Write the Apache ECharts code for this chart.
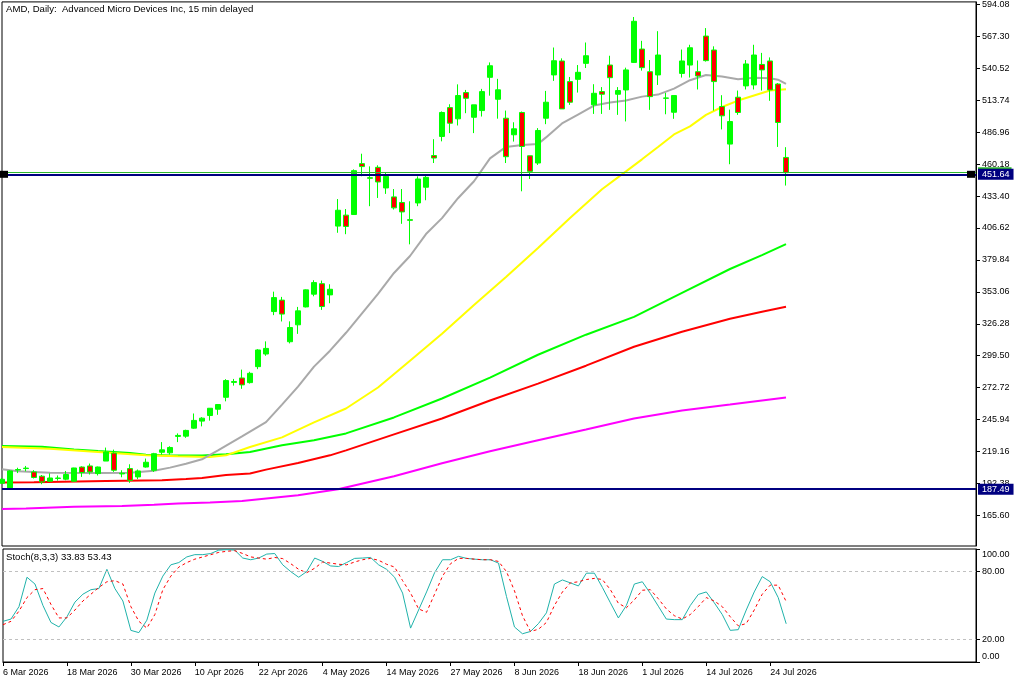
<!DOCTYPE html>
<html><head><meta charset="utf-8">
<script src="https://cdn.jsdelivr.net/npm/echarts@6/dist/echarts.min.js"></script>
<style>html,body{margin:0;padding:0;background:#fff}#c{width:1024px;height:683px}</style>
</head><body><div id="c"></div>
<script>
const titleText = 'AMD, Daily:  Advanced Micro Devices Inc, 15 min delayed';
const dates = ['6 Mar 2026','9 Mar 2026','10 Mar 2026','11 Mar 2026','12 Mar 2026','13 Mar 2026','16 Mar 2026','17 Mar 2026','18 Mar 2026','19 Mar 2026','20 Mar 2026','23 Mar 2026','24 Mar 2026','25 Mar 2026','26 Mar 2026','27 Mar 2026','30 Mar 2026','31 Mar 2026',
'1 Apr 2026','2 Apr 2026','6 Apr 2026','7 Apr 2026','8 Apr 2026','9 Apr 2026','10 Apr 2026','13 Apr 2026','14 Apr 2026','15 Apr 2026','16 Apr 2026','17 Apr 2026','20 Apr 2026','21 Apr 2026','22 Apr 2026','23 Apr 2026','24 Apr 2026','27 Apr 2026','28 Apr 2026','29 Apr 2026','30 Apr 2026',
'1 May 2026','4 May 2026','5 May 2026','6 May 2026','7 May 2026','8 May 2026','11 May 2026','12 May 2026','13 May 2026','14 May 2026','15 May 2026','18 May 2026','19 May 2026','20 May 2026','21 May 2026','22 May 2026','26 May 2026','27 May 2026','28 May 2026','29 May 2026',
'1 Jun 2026','2 Jun 2026','3 Jun 2026','4 Jun 2026','5 Jun 2026','8 Jun 2026','9 Jun 2026','10 Jun 2026','11 Jun 2026','12 Jun 2026','15 Jun 2026','16 Jun 2026','17 Jun 2026','18 Jun 2026','22 Jun 2026','23 Jun 2026','24 Jun 2026','25 Jun 2026','26 Jun 2026','29 Jun 2026','30 Jun 2026',
'1 Jul 2026','2 Jul 2026','6 Jul 2026','7 Jul 2026','8 Jul 2026','9 Jul 2026','10 Jul 2026','13 Jul 2026','14 Jul 2026','15 Jul 2026','16 Jul 2026','17 Jul 2026','20 Jul 2026','21 Jul 2026','22 Jul 2026','23 Jul 2026','24 Jul 2026','27 Jul 2026','28 Jul 2026'];
const dateTickIdx = [0,8,16,24,32,40,48,56,64,72,80,88,96];
const priceTicks = [165.60,192.38,219.16,245.94,272.72,299.50,326.28,353.06,379.84,406.62,433.40,460.18,486.96,513.74,540.52,567.30,594.08];
const stochTicks = [0,20,80,100];

const open = [192.5,188.6,203.5,204.8,202,198.4,194.2,196.5,195.9,194.2, 206.1,207,200.6,211.1,217.8,200.3,204.8,197.8,206.1,203.4, 218.5,218,231.8,232,238.7,244.6,249.3,254.6,264.6,277.1, 280.8,276.9,290.3,300.9,336.5,346.1,311.2,325.4,340.4,351.1, 359.9,350.5,408.2,417.4,417.9,460.6,448.8,457.5,440.2,432.7, 428,413.6,427.6,440.8,467.4,483.4,507.6,498.2,520.2,499.5, 505.1,533,514.6,498.7,484.8,503.5,467.2,461.1,498.7,535, 546.7,529.4,531.3,544.7,509.9,521,543.3,518.8,522.4,545.5, 556.7,537.7,535,515.7,503.7,536.3,543.3,537.7,567.6,555.9, 508.5,477,516.3,525.8,526.6,543.8,546.7,527.4,465.8];
const close = [195.8,202.8,204,205.2,197.3,193.6,196.9,196.9,199.8,205.3, 201.5,202,206.1,218.7,203.4,200.9,194.9,202.8,210.1,217.3, 220.5,222.5,232.6,236.8,245.2,247.1,255.4,258.5,278.6,277.8, 275,284.7,304.3,305.6,348.2,334.4,323.1,337.1,354.7,360.8, 340.7,355.2,421.5,407.9,454.7,458.1,448.3,445.2,449.9,423.5, 420.1,413,447.7,449.1,465.3,503.5,494.5,517.7,515.4,509.9, 521,542.7,522.5,466.4,489.8,475,454.1,488.4,512.1,546.9, 506.5,512.1,537.2,551.1,519.6,518.8,532.7,521.9,539.2,580, 541.1,516.8,551.7,515.4,517.7,546.7,557.8,534.1,547,529.4, 500.7,495.9,503.5,544.2,551.7,539.2,522.4,495.1,453];
const low = [192,188,201,202.5,196.5,191.7,193.6,194.7,195,194, 197.8,199.8,199,211.1,202,197.5,192.8,195.9,205.6,202, 216.5,216.5,227,230.6,238.1,240.2,245,249.9,261.2,274.4, 271.7,276.1,288.2,299.4,333.5,328.2,309.8,317.8,340,349.3, 337.9,343.5,402.6,401.4,417.9,450,424.9,431.8,435.2,422.1, 410.1,392.9,424.9,429.9,461.1,479.3,486.2,492.6,502.9,486.2, 500.1,517.6,498.3,461.1,479.1,437.4,447.7,459.5,493.7,530, 506.5,509.9,520.2,540.8,502.3,502.3,505.7,501.5,496,545, 538.6,505.7,526.6,502,498.2,532.8,532.8,522.8,546.2,505.1, 489.3,460.1,501.5,522.8,522.8,521.9,513.3,474.6,442.2];
const high = [197,203.5,205.5,207,203.5,199.4,200.8,199,202.8,205.5, 206.7,209,206.5,222.4,220.7,203.4,208.4,204,213.2,218, 227,223.5,234.3,237.4,251,247.9,255.6,258.8,279.8,280, 287.8,286,305,311.5,353.2,348.8,328.3,340.4,355.1,362.8, 362.5,359.4,430.9,422.5,455.8,468.9,458.3,459.2,452.7,439.3, 439.3,429,449.9,451,481.1,504.4,510.4,527.1,522.4,509.9, 523.3,545.5,531.7,505.1,495.3,504.3,467.2,490.4,521.6,558, 548.9,533.3,543.3,562.2,527.2,524.8,551.1,524.8,541.1,583.6, 563.6,547.5,571.7,520,517.7,556.3,560.3,547.1,574.3,559, 518,505.9,521.9,547.5,560.3,553.5,549.7,528.2,474.4];

// moving averages: [bar index, value]
const maGray = [[0,204.2],[2,202.5],[6,201.3],[12,201.1],[16,201.3],[19,202.9],[21,205.6],[23,208.8],[25,212.6],[27,220.1],[30,231.8],[33,243.8],[35,258.5],[37,273.6],[39,290.3],[41,303.7],[43,318.7],[45,335],[47,351.3],[49,368.9],[51,383.1],[53,401.5],[55,414.9],[57,431.6],[59,445.8],[61,465.0],[63,474.6],[65,476.3],[67,477.1],[68,482.6],[70,494.3],[72,501.8],[74,509.3],[76,511.8],[78,513.5],[80,516.8],[82,518.5],[84,523.5],[86,530.6],[88,535.0],[90,533.6],[92,531.3],[94,532.7],[96,532.3],[97,531.0],[98,527.5]];
const maYellow = [[0,222.8],[6,221.5],[12,218.7],[18,215.9],[22,215.1],[26,214.5],[28,215.9],[31,222.9],[35,231.0],[39,243.5],[43,255.2],[47,272.8],[51,295.3],[55,317.9],[59,342.1],[63,365.5],[67,389.8],[71,414.9],[75,439.1],[78,454.1],[80,464.2],[82,474.6],[84,485.1],[86,491.8],[88,501.5],[90,508.1],[92,513.5],[94,517.7],[96,521.9],[98,523.0]];
const maGreen = [[0,223.7],[5,223.2],[9,220.9],[12,219.5],[16,217.8],[18,216.3],[21,215.7],[25,215.7],[28,216.8],[31,218.7],[35,224.3],[39,228.5],[43,234.3],[49,247.7],[55,263.6],[61,281.1],[67,300.3],[73,317.1],[79,332.1],[85,352.2],[91,372.2],[95,383.9],[98,393.1]];
const maRed = [[0,193.1],[4,193.3],[13,194.4],[20,195.0],[23,196.1],[25,196.9],[28,199.4],[31,200.6],[33,203.9],[37,209.5],[41,215.9],[43,220.1],[49,233.5],[55,246.8],[61,261.9],[67,276.1],[73,291.1],[79,307.0],[85,319.6],[91,330.4],[95,336.3],[98,340.5]];
const maMagenta = [[0,170.8],[3,171.4],[9,172.7],[15,173.5],[19,174.4],[22,175.5],[26,176.4],[30,177.5],[37,182.5],[42,187.5],[49,198.4],[55,209.2],[61,219.3],[67,228.5],[73,237.6],[79,246.8],[85,253.5],[91,258.5],[95,261.9],[98,264.4]];

const stochMain = [36,38,49,75,69,50,35,31,40,53, 60,64,65,82,65,54,28,26,37,61, 76,86,88,93,95,95,96,99,99.4,99, 92,90.5,92,95.5,96,86,80,75,80,92, 89,85,84.5,88,91.7,92,92.5,86,82,75, 61,30,46,62,79,90.5,90.5,93.5,91.7,91, 90.5,90.5,87.5,58,31,25,27,34,43.5,69, 72.6,70,67.3,78.6,78.6,66,52.4,39,50,69, 71,60.7,49.4,38,37.5,37.5,50,59.8,62,52.4, 42,28,28.6,46,62,75.6,71,57,33.83];
const stochSignal = [33,36,45,57,64,65,51,39,39,46, 54,60,66,71,72,69,49,36,30,42, 64,76,84,88,91,93,95,97,98,98.5, 96,93,92,91,92.5,91.5,87,82,79,83, 88.5,87.5,86.5,86,88.5,90.5,91.7,90,86.5,84, 72,61,47,44,60,76,87,91.7,91.7,91, 90.5,90.5,89,80,63,41,27,29,35,50, 62,70,71,73,74,73,64,52,48,55, 63.5,64,56,47,41,38,42,49,57,54, 49,40,32,34,46,60,68,68,53.43];
const stochLevels = [20, 80];
const bidLevel = 451.64;
const greenLevel = 453.7;
const lowLevel = 187.49;

const FONT = '"Liberation Sans", Arial, sans-serif';
const X_MAX = 121.75;
const candles = open.map((o, i) => [i, o, close[i], low[i], high[i]]);
const idx = arr => arr.map((v, i) => [i, v]);

const chart = echarts.init(document.getElementById('c'), null, {renderer: 'canvas'});
const maSeries = (data, color) => ({
  type: 'line', xAxisIndex: 0, yAxisIndex: 0, data, showSymbol: false, symbol: 'none',
  lineStyle: {color, width: 2}, z: 2, silent: true
});
const option = {
  animation: false,
  backgroundColor: '#ffffff',
  title: [
    {text: titleText, left: 6, top: 4, padding: 0, textStyle: {fontSize: 9.6, fontWeight: 'normal', color: '#000', fontFamily: FONT}},
    {text: 'Stoch(8,3,3) ' + stochMain[stochMain.length - 1].toFixed(2) + ' ' + stochSignal[stochSignal.length - 1].toFixed(2),
     left: 6, top: 552, padding: 0, textStyle: {fontSize: 9.6, fontWeight: 'normal', color: '#000', fontFamily: FONT}}
  ],
  grid: [
    {left: 2, top: 0, width: 974, height: 546, show: true, borderColor: '#000', borderWidth: 1},
    {left: 2, top: 549, width: 974, height: 113, show: true, borderColor: '#000', borderWidth: 1}
  ],
  xAxis: [
    {gridIndex: 0, type: 'value', min: 0, max: X_MAX, show: false, axisLine: {onZero: false}},
    {gridIndex: 1, type: 'value', min: 0, max: X_MAX,
     axisLine: {show: true, onZero: false, lineStyle: {color: '#000', width: 1}},
     axisTick: {show: true, customValues: dateTickIdx, length: 4, lineStyle: {color: '#000'}},
     axisLabel: {customValues: dateTickIdx, formatter: v => dates[v] || '', align: 'left', fontSize: 9, color: '#000', fontFamily: FONT, margin: 6},
     splitLine: {show: false}}
  ],
  yAxis: [
    {gridIndex: 0, type: 'value', position: 'right', min: 139.85, max: 596.25,
     axisLine: {show: true, onZero: false, lineStyle: {color: '#000'}},
     axisTick: {show: true, customValues: priceTicks, length: 4, lineStyle: {color: '#000'}},
     axisLabel: {customValues: priceTicks, formatter: v => v.toFixed(2), fontSize: 9, color: '#000', fontFamily: FONT, margin: 6},
     splitLine: {show: false}},
    {gridIndex: 1, type: 'value', position: 'right', min: 0, max: 100,
     axisLine: {show: true, onZero: false, lineStyle: {color: '#000'}},
     axisTick: {show: true, customValues: stochTicks, length: 4, lineStyle: {color: '#000'}},
     axisLabel: {customValues: stochTicks, fontSize: 9, color: '#000', fontFamily: FONT, margin: 6,
       formatter: v => v === 100 ? '{t|100.00}' : (v === 0 ? '{b|0.00}' : v.toFixed(2)),
       rich: {t: {fontSize: 9, color: '#000', fontFamily: FONT, padding: [12, 0, 0, 0]},
              b: {fontSize: 9, color: '#000', fontFamily: FONT, padding: [0, 0, 11, 0]}}},
     splitLine: {show: false}}
  ],
  series: [
    maSeries(maMagenta, '#ff00ff'),
    maSeries(maRed, '#ff0000'),
    maSeries(maGreen, '#00ff00'),
    maSeries(maYellow, '#ffff00'),
    maSeries(maGray, '#a9a9a9'),
    {type: 'candlestick', xAxisIndex: 0, yAxisIndex: 0, data: candles,
     dimensions: ['idx', 'open', 'close', 'low', 'high'],
     encode: {x: 'idx', y: ['open', 'close', 'low', 'high']},
     barWidth: 5, z: 3, silent: true,
     itemStyle: {color: '#00ff00', color0: '#ff0000', borderColor: '#00ff00', borderColor0: '#00ff00', borderWidth: 1}},
    {type: 'line', xAxisIndex: 0, yAxisIndex: 0, data: [], z: 5, clip: false, silent: true,
     markLine: {silent: true, symbol: ['none', 'none'], animation: false,
       data: [
         {yAxis: greenLevel, lineStyle: {color: '#2db82d', width: 1, type: 'solid'},
          label: {show: true, position: 'end', distance: 2, formatter: greenLevel.toFixed(2), color: '#2db82d', backgroundColor: '#2db82d', padding: [0, 3], fontSize: 9, fontFamily: FONT}},
         {yAxis: bidLevel, lineStyle: {color: '#000080', width: 2, type: 'solid'},
          label: {show: true, position: 'end', distance: 2, formatter: bidLevel.toFixed(2), color: '#fff', backgroundColor: '#000080', padding: [1, 4], fontSize: 9, fontFamily: FONT}},
         {yAxis: lowLevel, lineStyle: {color: '#000080', width: 2, type: 'solid'},
          label: {show: true, position: 'end', distance: 2, formatter: lowLevel.toFixed(2), color: '#fff', backgroundColor: '#000080', padding: [1, 4], fontSize: 9, fontFamily: FONT}}
       ]},
     markPoint: {silent: true, symbol: 'rect', symbolSize: [8, 7], itemStyle: {color: '#000'}, label: {show: false},
       data: [{coord: [0, bidLevel], symbolOffset: [2, 0]}, {coord: [X_MAX, bidLevel], symbolOffset: [-5, 0]}]}
    },
    {type: 'line', xAxisIndex: 1, yAxisIndex: 1, data: idx(stochMain), showSymbol: false, symbol: 'none',
     lineStyle: {color: '#20b2aa', width: 1}, z: 3, silent: true,
     markLine: {silent: true, symbol: ['none', 'none'], label: {show: false},
       lineStyle: {color: '#c0c0c0', type: [3, 3], width: 1},
       data: stochLevels.map(v => ({yAxis: v}))}},
    {type: 'line', xAxisIndex: 1, yAxisIndex: 1, data: idx(stochSignal), showSymbol: false, symbol: 'none',
     lineStyle: {color: '#ff0000', width: 1, type: [3, 3]}, z: 4, silent: true}
  ]
};
chart.setOption(option);
</script></body></html>
